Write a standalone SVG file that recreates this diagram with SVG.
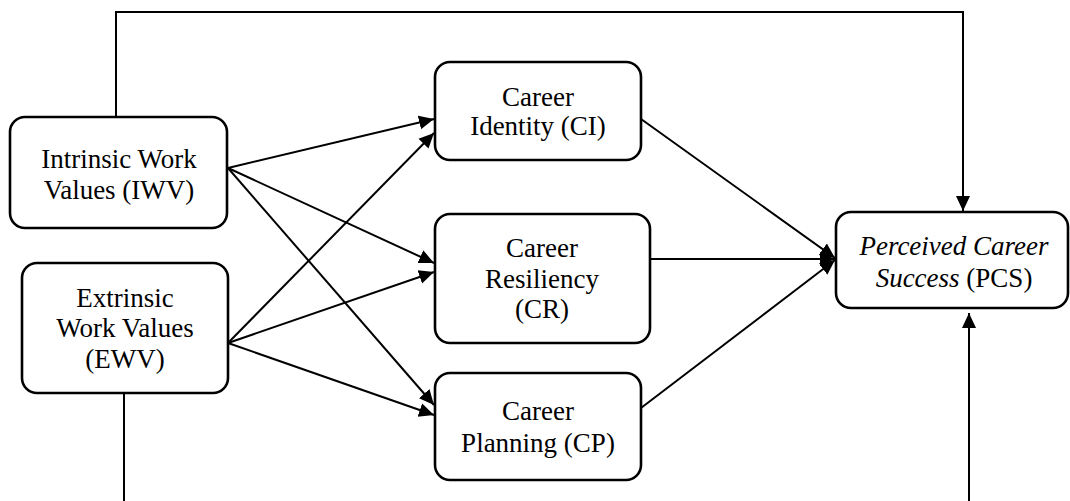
<svg xmlns="http://www.w3.org/2000/svg" width="1070" height="501" viewBox="0 0 1070 501">
<style>
.box{fill:#fff;stroke:#000;stroke-width:2.6}
.t{font-family:"Liberation Serif","Times New Roman",serif;font-size:27px;fill:#000;text-anchor:middle}
.c{fill:none;stroke:#000;stroke-width:2}
</style>
<defs>
<marker id="ah" markerUnits="userSpaceOnUse" markerWidth="16" markerHeight="16" refX="15" refY="8" orient="auto">
<path d="M0,1 L15,8 L0,15 z" fill="#000"/>
</marker>
</defs>
<rect width="1070" height="501" fill="#fff"/>
<g id="connectors">
<polyline class="c" points="116,117 116,12 963,12 963,211" marker-end="url(#ah)"/>
<line class="c" x1="124" y1="393" x2="124" y2="501"/>
<line class="c" x1="969" y1="501" x2="969" y2="313" marker-end="url(#ah)"/>
<line class="c" x1="228" y1="168" x2="434" y2="119" marker-end="url(#ah)"/>
<line class="c" x1="228" y1="168" x2="434" y2="263" marker-end="url(#ah)"/>
<line class="c" x1="228" y1="168" x2="434" y2="405" marker-end="url(#ah)"/>
<line class="c" x1="228" y1="343" x2="434" y2="133" marker-end="url(#ah)"/>
<line class="c" x1="228" y1="343" x2="434" y2="272" marker-end="url(#ah)"/>
<line class="c" x1="228" y1="343" x2="434" y2="415" marker-end="url(#ah)"/>
<line class="c" x1="641" y1="119" x2="835" y2="258" marker-end="url(#ah)"/>
<line class="c" x1="650" y1="259" x2="835" y2="259" marker-end="url(#ah)"/>
<line class="c" x1="641" y1="408" x2="835" y2="260" marker-end="url(#ah)"/>
</g>
<g id="IWV">
<rect class="box" x="10" y="117" width="217" height="111" rx="15"/>
<text class="t" x="119" y="168">Intrinsic Work</text>
<text class="t" x="119" y="199">Values (IWV)</text>
</g>
<g id="EWV">
<rect class="box" x="22" y="263" width="206" height="130" rx="15"/>
<text class="t" x="125" y="307">Extrinsic</text>
<text class="t" x="125" y="337">Work Values</text>
<text class="t" x="125" y="368">(EWV)</text>
</g>
<g id="CI">
<rect class="box" x="435" y="62" width="206" height="98" rx="15"/>
<text class="t" x="538" y="106">Career</text>
<text class="t" x="538" y="135">Identity (CI)</text>
</g>
<g id="CR">
<rect class="box" x="435" y="214" width="215" height="129" rx="15"/>
<text class="t" x="542" y="257">Career</text>
<text class="t" x="542" y="288">Resiliency</text>
<text class="t" x="542" y="318">(CR)</text>
</g>
<g id="CP">
<rect class="box" x="435" y="373" width="206" height="107" rx="15"/>
<text class="t" x="538" y="420">Career</text>
<text class="t" x="538" y="452">Planning (CP)</text>
</g>
<g id="PCS">
<rect class="box" x="836" y="212" width="232" height="96" rx="15"/>
<text class="t" x="954" y="255"><tspan font-style="italic">Perceived Career</tspan></text>
<text class="t" x="954" y="287"><tspan font-style="italic">Success</tspan> (PCS)</text>
</g>
</svg>
